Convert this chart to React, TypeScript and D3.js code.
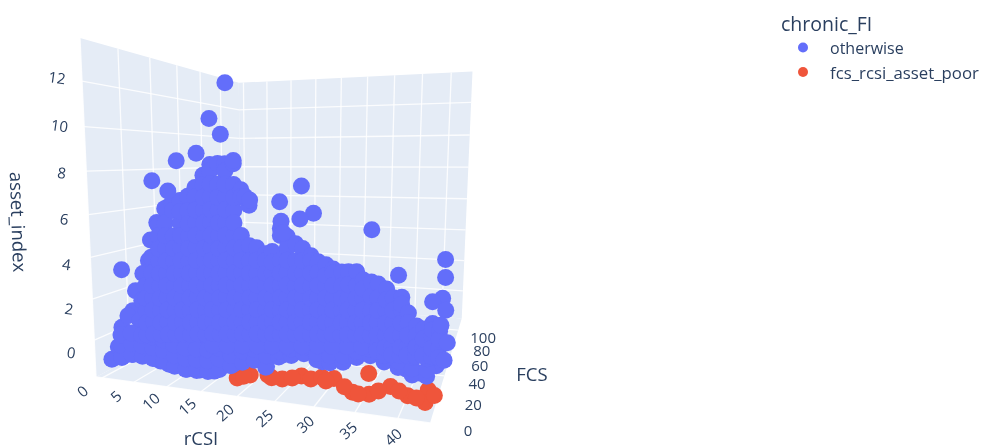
import React from "react";
import * as d3 from "d3";

// ---- axes
const rcsiTicks = [0, 5, 10, 15, 20, 25, 30, 35, 40];
const fcsTicks = [0, 20, 40, 60, 80, 100];
const assetTicks = [0, 2, 4, 6, 8, 10, 12];
const legendLabels = ["otherwise", "fcs_rcsi_asset_poor"];
const BLUE = "#636efa";
const RED = "#EF553B";
const INK = "#2a3f5f";
const WALL = "#E5ECF6";

// ---- chronic_FI = fcs_rcsi_asset_poor
const poorFCS = 4;
const poorRCSI = [19.3, 21.1, 23.5, 25.4, 27.9, 29.1, 30.5, 32, 34.3, 36.3, 36.2, 38.8, 40.8, 42.8, 43.1, 31, 33.3, 37.4, 39.8, 41.8, 24, 35, 43.8, 20.2, 26.7];
const poorAsset = [-1.22, -1, -0.9, -1, -0.76, -0.84, -0.7, -0.7, -1.2, -1.2, -0.3, -0.75, -1.05, -1.25, -0.7, -0.85, -1, -1, -0.9, -1.1, -1, -1.25, -0.9, -1.1, -0.9];

// ---- chronic_FI = otherwise: low-FCS households
const frontFCS = 1;
const frontRCSI = [1.4, 4.8, 8, 10.2, 12.8, 16.7, 19.3, 21.7, 23.7, 25.9, 28.8, 30.9, 33.2, 36.7, 38.8, 40.7, 42.3, 44,
  2.5, 3.2, 5, 5.5, 6.7, 7.6, 8, 9, 10.8, 3.5, 3.6, 6, 4.2, 6, 6.4, 3.7, 6, 6.9, 9.1, 11.4, 13.5, 15.6, 17.8, 14.7, 3, 27.4, 35,
  8, 10.2, 12.4, 14.4, 16.5, 18.7, 20.4, 22.2, 8.9, 11.2, 5.7, 4.1];
const frontAsset = [-0.9, -0.53, -0.6, -0.8, -0.93, -0.86, -0.45, -0.08, -0.4, 0.24, 0.49, 0.14, 0.33, 0.81, 0.56, 0.22, 0.11, 0.49,
  -0.25, 0.73, 1.58, 2.54, 3.37, 3.99, 4.93, 5.73, 6.47, 3.48, 0.13, 0.21, 1.31, 1.15, 2.1, -0.58, -0.35, -0.09, -0.1, -0.16, -0.22, -0.29, -0.08, -0.89, -0.75, 0.39, 0.56,
  0.37, 0.35, 0.29, 0.27, 0.21, 0.29, 0.17, 0.34, -0.7, -0.62, -0.03, -0.33];

// ---- otherwise: low-FCS households near the floor, asset values per rCSI level
const floorRCSI = [3, 4.6, 6.2, 7.8, 9.4, 11, 12.6, 14.2, 15.8, 17.4, 19, 20.6, 22.2, 23.8, 25.4, 27, 28.6, 30.2, 31.8, 33.4, 35, 36.6, 38.2, 39.8, 41.4, 43];
const floorAsset = [
  [-0.69, -0.17, 0.34], [-0.55, -0.02, 0.49], [-0.57, -0.06, 0.45], [-0.62, -0.1, 0.41], [-0.69, -0.18, 0.32], [-0.86, -0.36, 0.15],
  [-0.94, -0.44, 0.06], [-0.93, -0.43, 0.07], [-0.91, -0.41, 0.09], [-0.76, -0.27, 0.23], [-0.52, -0.03, 0.46], [-0.29, 0.21, 0.7],
  [-0.14, 0.34, 0.83], [-0.36, 0.13, 0.61], [0.13, 0.4, 0.89], [0.26, 0.54, 1.02], [0.4, 0.68, 1.16], [0.2, 0.47, 0.95],
  [0.13, 0.43, 0.9], [0.21, 0.48, 0.95], [0.48, 0.74, 1.21], [0.61, 0.88, 1.34], [0.41, 0.67, 1.13], [0.25, 0.51, 0.97],
  [0, 0.26, 0.72], [0.02, 0.27, 0.73],
];

// ---- otherwise: mid-FCS households, asset values per rCSI level
const midFCS = 28;
const midRCSI = [0, 1.2, 2.5, 3.7, 5, 6.2, 7.5, 8.7, 10, 11.1, 12.3, 13.4, 14.7, 15.8, 17, 18.1, 19.4, 20.4, 21.6, 22.6, 23.8, 24.8, 26, 27, 28.1, 29.1, 30.3, 31.2, 32.3, 33.2, 34.3, 35.2, 36.3, 37.2, 38.3, 39.2, 40.3, 41.2, 42.3, 43.2];
const midAsset = [
  [2.57, 1.87, 0.53, -0.8, 1.2, -0.13],
  [3.45, 2.6, 1.27, -0.06, 1.93, 0.6, -0.7],
  [5.16, 4.58, 3.26, 1.94, 0.61, -0.71, 3.92, 2.6, 1.28, -0.05],
  [6.02, 5.28, 3.97, 2.65, 1.34, 0.02, 4.62, 3.31, 2, 0.68, -0.64],
  [6.24, 5.93, 4.62, 3.31, 2, 0.69, -0.62, 3.97, 2.66, 1.35, 0.03],
  [6.46, 5.31, 4.01, 2.71, 1.41, 0.1, 5.9, 4.66, 3.36, 2.06, 0.75, -0.55],
  [6.68, 5.95, 4.66, 3.36, 2.07, 0.77, -0.52, 5.3, 4.01, 2.72, 1.42, 0.12],
  [7.12, 6.65, 5.36, 4.07, 2.77, 1.48, 0.19, 6, 4.71, 3.42, 2.12, 0.83, -0.46],
  [7.74, 7.28, 5.99, 4.7, 3.42, 2.13, 0.85, -0.44, 6.64, 5.35, 4.06, 2.78, 1.49, 0.2],
  [8.27, 7.96, 6.68, 5.4, 4.11, 2.83, 1.55, 0.27, -1, 7.32, 6.04, 4.75, 3.47, 2.19, 0.91, -0.36],
  [8.32, 7.3, 6.02, 4.74, 3.47, 2.19, 0.92, -0.36, 6.66, 5.38, 4.1, 2.83, 1.55, 0.28],
  [8.31, 7.95, 6.69, 5.42, 4.15, 2.88, 1.61, 0.34, -0.93, 7.3, 6.05, 4.78, 3.51, 2.24, 0.97, -0.3],
  [8.31, 7.3, 6.04, 4.78, 3.52, 2.25, 0.99, -0.27, 6.67, 5.41, 4.15, 2.89, 1.62, 0.36],
  [7.05, 6.7, 4.79, 4.19, 2.93, 1.67, 0.42, -0.84, 3.56, 2.3, 1.05, -0.21],
  [6.3, 4.3, 3.55, 2.3, 1.05, -0.2, 2.92, 1.68, 0.42],
  [4.22, 2.98, 1.73, 0.49, -0.76, 3.6, 2.35, 1.11, -0.13],
  [3.95, 3.6, 2.36, 1.12, -0.12, 2.98, 1.74, 0.5],
  [4.07, 3.03, 1.8, 0.56, -0.68, 3.55, 2.41, 1.18, -0.06],
  [5.22, 4.88, 3.65, 2.41, 1.18, -0.05, 3.03, 1.8, 0.56],
  [4.84, 4.3, 3.07, 1.85, 0.62, -0.6, 3.68, 2.46, 1.23, 0],
  [4.51, 3.68, 2.46, 1.24, 0.02, 3.07, 1.85, 0.63],
  [4.29, 3.12, 1.9, 0.69, -0.53, 3.7, 2.51, 1.3, 0.08],
  [3.97, 3.72, 2.51, 1.3, 0.09, 3.12, 1.9, 0.7],
  [3.7, 3.17, 1.96, 0.75, -0.45, 2.56, 1.35, 0.15],
  [3.57, 2.56, 1.36, 0.16, 3.06, 1.96, 0.76],
  [3.39, 3.2, 2, 0.81, -0.39, 2.6, 1.4, 0.21],
  [3.27, 2.6, 1.41, 0.22, 2, 0.82],
  [3.3, 2.06, 0.87, -0.32, 2.68, 1.46, 0.27],
  [3.32, 2.65, 1.47, 0.28, 2.06, 0.88],
  [2.95, 2.1, 0.92, -0.27, 2.52, 1.51, 0.32],
  [2.88, 1.52, 0.34, 2.2, 0.93],
  [2.81, 2.15, 0.98, -0.19, 1.56, 0.39, -0.4],
  [2.6, 1.57, 0.4, -0.55, 2.08, 0.98, -0.18],
  [2.21, 1.03, -0.13, 1.62, 0.45, -0.5],
  [2.26, 1.62, 0.46, -0.5, 1.94, 1.04, -0.12],
  [1.55, 1.09, -0.07, 0.5, -0.45],
  [0.98, 0.52, -0.45, 0, -0.05],
  [0.86, 0, 0.4, -0.4],
  [1.16, 0.57, -0.4, 0.86, 0],
  [0.83, 0.05, 0.45, -0.4],
];

// ---- otherwise: high-asset outliers at mid FCS
const peakRCSI = [13.6, 11.1, 12.8, 9, 5.8, 1.7, 4.3, 14.7, 16.4, 17.1, 21.7, 21.5, 24.6, 26.3, 24.4, 34.2, 37.8, 22, 43.9];
const peakAsset = [12.16, 10.5, 9.73, 8.82, 8.45, 7.44, 6.93, 8.46, 6.72, 6.55, 5.57, 6.5, 7.27, 6, 5.7, 5.31, 3.28, 5, -0.5];

// ---- otherwise: high-FCS, high-rCSI households
const backFCS = 56;
const backRCSI = [42.6, 42.7, 42.4, 41, 42.9, 42.3, 43.3];
const backAsset = [3.48, 2.55, 1.47, 1.25, 0.85, 0.05, -0.85];

// ---- scene scales and perspective
const xMin = -1, xMax = 43.6, yMin = 0, yMax = 121, zMin = -1.84, zMax = 13.86;
const xScale = d3.scaleLinear().domain([xMin, xMax]).range([0, 1]);
const yScale = d3.scaleLinear().domain([yMin, yMax]).range([0, 1]);
const zScale = d3.scaleLinear().domain([zMin, zMax]).range([0, 1]);

const O = [96, 377, 1];
const HX = [257.7, -29.1, -0.1775];
const HY = [275.4, 85.9, 0.54];
const HZ = [-22.25, -341.9, -0.0781];
function project(x: number, y: number, z: number): [number, number] {
  const u = xScale(x), v = yScale(y), w = zScale(z);
  const h = [0, 1, 2].map((i) => O[i] + u * HX[i] + v * HY[i] + w * HZ[i]);
  return [h[0] / h[2], h[1] / h[2]];
}
const line = d3.line();
const quad = (pts: [number, number, number][]) => line(pts.map((p) => project(p[0], p[1], p[2]))) + "Z";
const seg = (a: [number, number, number], b: [number, number, number]) => line([project(...a), project(...b)]) || "";

const blueDots: [number, number, number][] = [
  ...frontRCSI.map((r, i) => [r, frontFCS, frontAsset[i]] as [number, number, number]),
  ...floorRCSI.flatMap((r, i) => floorAsset[i].map((a) => [r, frontFCS, a] as [number, number, number])),
  ...midRCSI.flatMap((r, i) => midAsset[i].map((a) => [r, midFCS, a] as [number, number, number])),
  ...peakRCSI.map((r, i) => [r, midFCS, peakAsset[i]] as [number, number, number]),
  ...backRCSI.map((r, i) => [r, backFCS, backAsset[i]] as [number, number, number]),
];
const redDots: [number, number, number][] = poorRCSI.map((r, i) => [r, poorFCS, poorAsset[i]]);

const font = "'Open Sans', sans-serif";

export default function App() {
  const grid: string[] = [];
  assetTicks.forEach((z) => {
    grid.push(seg([xMin, yMin, z], [xMin, yMax, z]));
    grid.push(seg([xMin, yMax, z], [xMax, yMax, z]));
  });
  rcsiTicks.forEach((x) => {
    grid.push(seg([x, yMin, zMin], [x, yMax, zMin]));
    grid.push(seg([x, yMax, zMin], [x, yMax, zMax]));
  });
  fcsTicks.forEach((y) => {
    grid.push(seg([xMin, y, zMin], [xMax, y, zMin]));
    grid.push(seg([xMin, y, zMin], [xMin, y, zMax]));
  });
  return (
    <svg width={986} height={447} style={{ position: "absolute", left: 0, top: 0, filter: "blur(0.6px)" }} fontFamily={font}>
      <path d={quad([[xMin, yMin, zMin], [xMax, yMin, zMin], [xMax, yMax, zMin], [xMin, yMax, zMin]])} fill={WALL} />
      <path d={quad([[xMin, yMin, zMin], [xMin, yMin, zMax], [xMin, yMax, zMax], [xMin, yMax, zMin]])} fill={WALL} />
      <path d={quad([[xMin, yMax, zMin], [xMin, yMax, zMax], [xMax, yMax, zMax], [xMax, yMax, zMin]])} fill={WALL} />
      {grid.map((d, i) => <path key={i} d={d} stroke="#fff" strokeWidth={1.3} strokeOpacity={0.85} fill="none" />)}

      {redDots.map((p, i) => { const [cx, cy] = project(...p); return <circle key={i} cx={cx} cy={cy} r={8.5} fill={RED} />; })}
      {blueDots.map((p, i) => { const [cx, cy] = project(...p); return <circle key={i} cx={cx} cy={cy} r={8.5} fill={BLUE} />; })}

      <g fill={INK} fontSize={15} textAnchor="middle" dominantBaseline="central">
        {rcsiTicks.map((t) => {
          const [px, py] = project(t, yMin, zMin);
          const lx = px - 20 + 0.375 * t, ly = py + 13 + 0.125 * t;
          return <text key={t} transform={`translate(${lx},${ly}) rotate(-42)`}>{t}</text>;
        })}
        {fcsTicks.map((t) => {
          const [px, py] = project(xMax, t, zMin);
          return <text key={t} x={px + 38 - 0.13 * t} y={py + 7}>{t}</text>;
        })}
        {assetTicks.map((t) => {
          const [px, py] = project(xMin, yMin, t);
          const lx = px - 23 - 0.17 * t, ly = py + 12 - 1.33 * t;
          return <text key={t} transform={`translate(${lx},${ly}) rotate(8)`}>{t}</text>;
        })}
      </g>
      <g fill={INK} fontSize={18.5} textAnchor="middle" dominantBaseline="central">
        <text transform="translate(19,222) rotate(88)">asset_index</text>
        <text x={201} y={437}>rCSI</text>
        <text x={532} y={373}>FCS</text>
      </g>

      <text x={781} y={23} fill={INK} fontSize={19.5} dominantBaseline="central">chronic_FI</text>
      {legendLabels.map((label, i) => (
        <g key={label}>
          <circle cx={803} cy={47.5 + i * 24.5} r={5} fill={i === 0 ? BLUE : RED} />
          <text x={830} y={48 + i * 24.5} fill={INK} fontSize={i === 0 ? 16 : 16.8} dominantBaseline="central">{label}</text>
        </g>
      ))}
    </svg>
  );
}
